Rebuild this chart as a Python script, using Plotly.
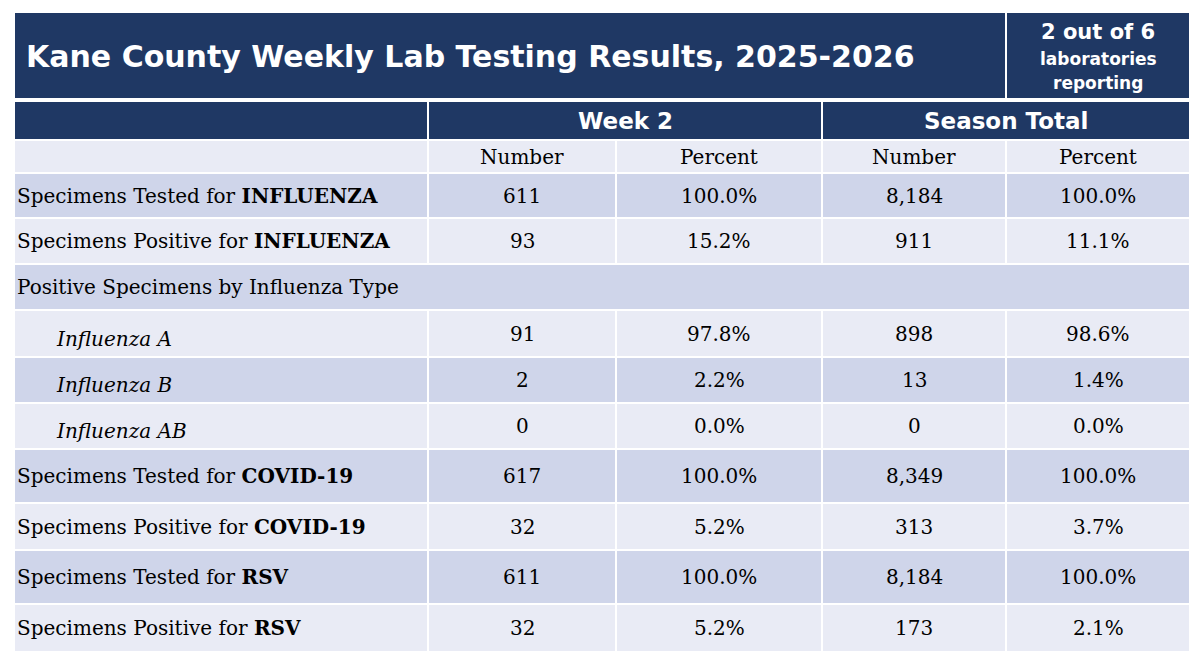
import plotly.graph_objects as go

title = "Kane County Weekly Lab Testing Results, 2025-2026"
reporting = ["2 out of 6", "laboratories", "reporting"]
groups = ["Week 2", "Season Total"]
subheads = ["Number", "Percent", "Number", "Percent"]
labels = ["Specimens Tested for <b>INFLUENZA</b>", "Specimens Positive for <b>INFLUENZA</b>",
          "Positive Specimens by Influenza Type", "<i>Influenza A</i>", "<i>Influenza B</i>",
          "<i>Influenza AB</i>", "Specimens Tested for <b>COVID-19</b>",
          "Specimens Positive for <b>COVID-19</b>", "Specimens Tested for <b>RSV</b>",
          "Specimens Positive for <b>RSV</b>"]
indent = [False, False, False, True, True, True, False, False, False, False]
week_num = ["611", "93", "", "91", "2", "0", "617", "32", "611", "32"]
week_pct = ["100.0%", "15.2%", "", "97.8%", "2.2%", "0.0%", "100.0%", "5.2%", "100.0%", "5.2%"]
season_num = ["8,184", "911", "", "898", "13", "0", "8,349", "313", "8,184", "173"]
season_pct = ["100.0%", "11.1%", "", "98.6%", "1.4%", "0.0%", "100.0%", "3.7%", "100.0%", "2.1%"]
shade = [1, 0, 1, 0, 1, 0, 1, 0, 1, 0]

NAVY = "#1f3864"; DARK = "#cfd5ea"; LIGHT = "#e9ebf5"
cols = [14, 428, 616, 822, 1006, 1190]
row_edges = [173, 218, 264, 310, 357, 403, 449, 503, 550, 604, 652]
SERIF = "DejaVu Serif"; SANS = "DejaVu Sans"
BODY = 20

fig = go.Figure()
shapes = []; ann = []
def rect(x0, y0, x1, y1, color):
    shapes.append(dict(type="rect", x0=x0, x1=x1, y0=y0, y1=y1, fillcolor=color,
                       line=dict(color="white", width=2), layer="below"))
def text(x, y, t, size, color="black", family=SERIF, anchor="center"):
    ann.append(dict(x=x, y=y, text=t, showarrow=False, xanchor=anchor, yanchor="middle",
                    font=dict(size=size, color=color, family=family)))

rect(14, 12, 1006, 99, NAVY)
rect(1006, 12, 1190, 99, NAVY)
text(24, 56, "<b>" + title + "</b>", 30, "white", SANS, "left")
text(1098, 32, "<b>" + reporting[0] + "</b>", 21, "white", SANS)
text(1098, 59, "<b>" + reporting[1] + "</b>", 17, "white", SANS)
text(1098, 83, "<b>" + reporting[2] + "</b>", 17, "white", SANS)

rect(14, 101, 428, 140, NAVY)
rect(428, 101, 822, 140, NAVY); text(625, 121, "<b>" + groups[0] + "</b>", 23, "white", SANS)
rect(822, 101, 1190, 140, NAVY); text(1006, 121, "<b>" + groups[1] + "</b>", 23, "white", SANS)

rect(14, 140, 428, 173, LIGHT)
for i, s in enumerate(subheads):
    rect(cols[i + 1], 140, cols[i + 2], 173, LIGHT)
    text((cols[i + 1] + cols[i + 2]) / 2, 157, s, BODY)

for r in range(len(labels)):
    y0, y1 = row_edges[r], row_edges[r + 1]
    c = DARK if shade[r] else LIGHT
    ym = (y0 + y1) / 2
    if r == 2:
        rect(14, y0, 1190, y1, c)
    else:
        for i in range(5):
            rect(cols[i], y0, cols[i + 1], y1, c)
    text(54 if indent[r] else 15, ym + (5 if indent[r] else 0), labels[r], BODY, anchor="left")
    for i, v in enumerate([week_num[r], week_pct[r], season_num[r], season_pct[r]]):
        text((cols[i + 1] + cols[i + 2]) / 2, ym, v, BODY)

# page body has an 8px margin: size the figure so page pixels map to these coordinates
fig.update_layout(width=1184, height=648, margin=dict(l=0, r=0, t=0, b=0),
                  plot_bgcolor="white", paper_bgcolor="white", shapes=shapes, annotations=ann,
                  xaxis=dict(range=[8, 1192], visible=False, fixedrange=True),
                  yaxis=dict(range=[656, 8], visible=False, fixedrange=True))
fig.write_html("out.html")
